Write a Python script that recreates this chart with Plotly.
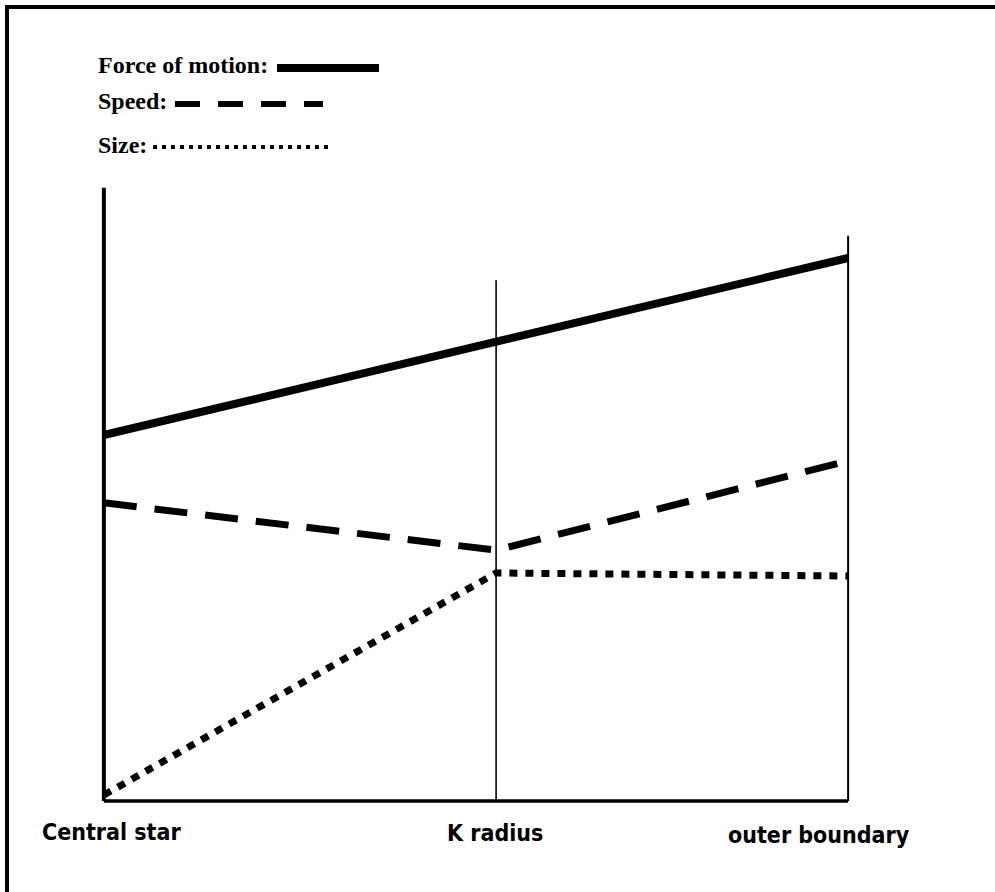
import plotly.graph_objects as go

# ---- data ----
positions = ["Central star", "K radius", "outer boundary"]
x_pos = [0.0, 0.527, 1.0]              # relative distance from the central star
force_of_motion = [61.0, 76.5, 90.5]
speed = [49.7, 41.8, 56.7]
size = [1.0, 38.0, 37.5]
guide_heights = [102.2, 86.8, 94.2]    # height of the vertical reference lines
series_names = ["Force of motion:", "Speed:", "Size:"]

W, H = 995, 892
L, R, T, B = 89, 132, 171, 79
PW, PH = W - L - R, H - T - B


def px(xp):
    return (xp - L) / PW


def py(yp):
    return (H - B - yp) / PH


fig = go.Figure()

# vertical reference lines
guide_widths = [4, 1.6, 2]
for xv, h, w in zip(x_pos, guide_heights, guide_widths):
    fig.add_trace(go.Scatter(x=[xv, xv], y=[0, h], mode="lines",
                             line=dict(color="black", width=w),
                             showlegend=False, hoverinfo="skip"))
# baseline
fig.add_trace(go.Scatter(x=[x_pos[0], x_pos[-1]], y=[0, 0], mode="lines",
                         line=dict(color="black", width=3.5),
                         showlegend=False, hoverinfo="skip"))

fig.add_trace(go.Scatter(x=x_pos, y=force_of_motion, mode="lines", name=series_names[0],
                         line=dict(color="black", width=8), showlegend=False))
fig.add_trace(go.Scatter(x=x_pos, y=speed, mode="lines", name=series_names[1],
                         line=dict(color="black", width=7, dash="33px,18px"), showlegend=False))
fig.add_trace(go.Scatter(x=x_pos, y=size, mode="lines", name=series_names[2],
                         line=dict(color="black", width=7, dash="8px,8px"), showlegend=False))

shapes = []
# frame (top and left edges)
shapes.append(dict(type="line", xref="paper", yref="paper", x0=px(5), x1=px(1000),
                   y0=py(7), y1=py(7), line=dict(color="black", width=4)))
shapes.append(dict(type="line", xref="paper", yref="paper", x0=px(7), x1=px(7),
                   y0=py(5), y1=py(900), line=dict(color="black", width=4)))
# legend samples
shapes.append(dict(type="line", xref="paper", yref="paper", x0=px(277), x1=px(379),
                   y0=py(68), y1=py(68), line=dict(color="black", width=8)))
shapes.append(dict(type="line", xref="paper", yref="paper", x0=px(175), x1=px(323),
                   y0=py(104), y1=py(104), line=dict(color="black", width=6, dash="25px,18px")))
shapes.append(dict(type="line", xref="paper", yref="paper", x0=px(153), x1=px(328),
                   y0=py(147), y1=py(147), line=dict(color="black", width=4, dash="4px,5px")))

annotations = []
legend_font = dict(family="Liberation Serif, Times New Roman, serif", size=24, color="black")
for name, yc in zip(series_names, [65, 101, 145]):
    annotations.append(dict(text="<b>" + name + "</b>", xref="paper", yref="paper",
                            x=px(96), y=py(yc), xanchor="left", yanchor="middle",
                            showarrow=False, font=legend_font))
label_font = dict(family="DejaVu Sans Condensed, DejaVu Sans, sans-serif",
                  size=23, color="black")
for name, xl, yc in zip(positions, [40, 445, 726], [832, 833, 835]):
    annotations.append(dict(text="<b>" + name + "</b>", xref="paper", yref="paper",
                            x=px(xl), y=py(yc), xanchor="left", yanchor="middle",
                            showarrow=False, font=label_font))

fig.update_layout(
    width=W, height=H,
    margin=dict(l=L, r=R, t=T, b=B, pad=0),
    paper_bgcolor="white", plot_bgcolor="white",
    showlegend=False,
    xaxis=dict(range=[-0.02, 1.02], visible=False, fixedrange=True),
    yaxis=dict(range=[-2, 105], visible=False, fixedrange=True),
    shapes=shapes, annotations=annotations,
)

fig.write_html("out.html",
               config={"displayModeBar": False},
               post_script="document.body.style.margin='0';document.body.style.padding='0';")
